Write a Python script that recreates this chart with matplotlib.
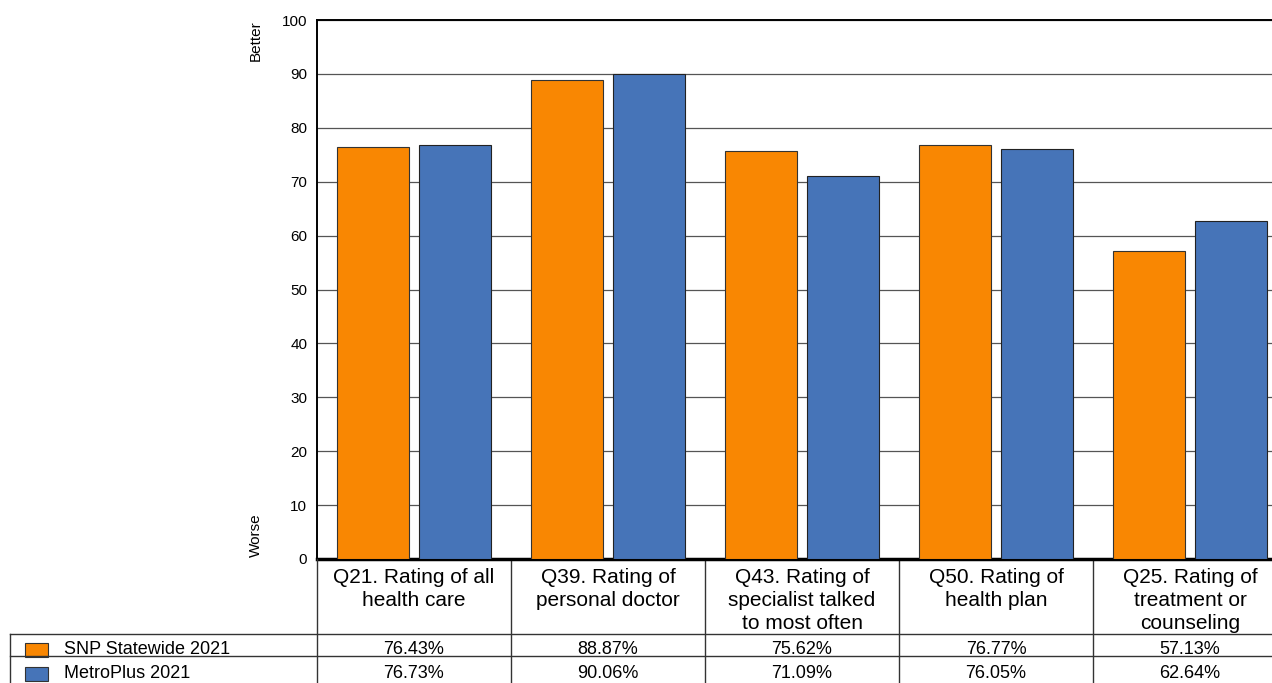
import matplotlib.pyplot as plt
from matplotlib.patches import Rectangle
from matplotlib.lines import Line2D
import matplotlib.transforms as mtransforms

plt.rcParams['font.family'] = ['Liberation Sans', 'DejaVu Sans']

# chart data
categories = ["Q21. Rating of all\nhealth care",
              "Q39. Rating of\npersonal doctor",
              "Q43. Rating of\nspecialist talked\nto most often",
              "Q50. Rating of\nhealth plan",
              "Q25. Rating of\ntreatment or\ncounseling"]
series_names = ["SNP Statewide 2021", "MetroPlus 2021"]
snp_2021 = [76.43, 88.87, 75.62, 76.77, 57.13]
metro_2021 = [76.73, 90.06, 71.09, 76.05, 62.64]
colors = ["#F98702", "#4674B8"]

W, H = 1272, 683
fig = plt.figure(figsize=(W / 100, H / 100), dpi=100)

def fx(px):
    return px / W

def fy(py):
    return 1 - py / H

# axes run slightly past the right edge of the figure
ax_left, ax_right, ax_top, ax_bot = 317, 1287, 20, 559
ax = fig.add_axes([fx(ax_left), fy(ax_bot), fx(ax_right - ax_left), (ax_bot - ax_top) / H])

x = list(range(len(categories)))
bw = 0.37
off = 0.213
ax.bar([i - off for i in x], snp_2021, bw, color=colors[0], edgecolor="#333333", linewidth=0.8, zorder=3)
ax.bar([i + off for i in x], metro_2021, bw, color=colors[1], edgecolor="#222222", linewidth=0.8, zorder=3)

ax.set_xlim(-0.5, len(categories) - 0.5)
ax.set_ylim(0, 100)
ax.set_yticks(range(0, 101, 10))
ax.tick_params(axis='y', length=0, labelsize=11, pad=7)
ax.set_xticks([])
ax.yaxis.grid(True, color="#555555", linewidth=0.9, zorder=0)
ax.set_axisbelow(True)
ax.spines["right"].set_visible(False)
ax.spines["top"].set_linewidth(1.4)
ax.spines["left"].set_linewidth(1.4)
ax.spines["bottom"].set_linewidth(2.5)

fig.text(fx(256), fy(41), "Better", rotation=90, ha="center", va="center", fontsize=11)
fig.text(fx(256), fy(535), "Worse", rotation=90, ha="center", va="center", fontsize=11)

# table under the chart: x in data units, y in figure units
trans = mtransforms.blended_transform_factory(ax.transData, fig.transFigure)
lc = "#333333"
for i, cat in enumerate(categories):
    ax.text(i, fy(568), cat, transform=trans, ha="center", va="top",
            fontsize=15, linespacing=1.28, clip_on=False)
    ax.text(i, fy(650), f"{snp_2021[i]:.2f}%", transform=trans, ha="center", va="center",
            fontsize=13, clip_on=False)
    ax.text(i, fy(673), f"{metro_2021[i]:.2f}%", transform=trans, ha="center", va="center",
            fontsize=13, clip_on=False)
for i in range(len(categories)):
    ax.add_line(Line2D([i + 0.5, i + 0.5], [fy(559), 0], transform=trans, color=lc,
                       linewidth=1.0, clip_on=False))

fig.add_artist(Line2D([fx(ax_left), fx(ax_left)], [fy(559), 0], color=lc, linewidth=1.0))
fig.add_artist(Line2D([fx(10), fx(10)], [fy(634), 0], color=lc, linewidth=1.0))
for yy in [634, 656]:
    fig.add_artist(Line2D([fx(10), 1], [fy(yy), fy(yy)], color=lc, linewidth=1.0))

# legend cells
for j, name in enumerate(series_names):
    y0 = 643 + j * 24
    fig.add_artist(Rectangle((fx(25), fy(y0 + 14)), fx(23), 14 / H, facecolor=colors[j],
                             edgecolor="#333333", linewidth=0.8, transform=fig.transFigure))
    fig.text(fx(64), fy(y0 + 7), name, ha="left", va="center", fontsize=13)

fig.savefig("out.png", dpi=100)
